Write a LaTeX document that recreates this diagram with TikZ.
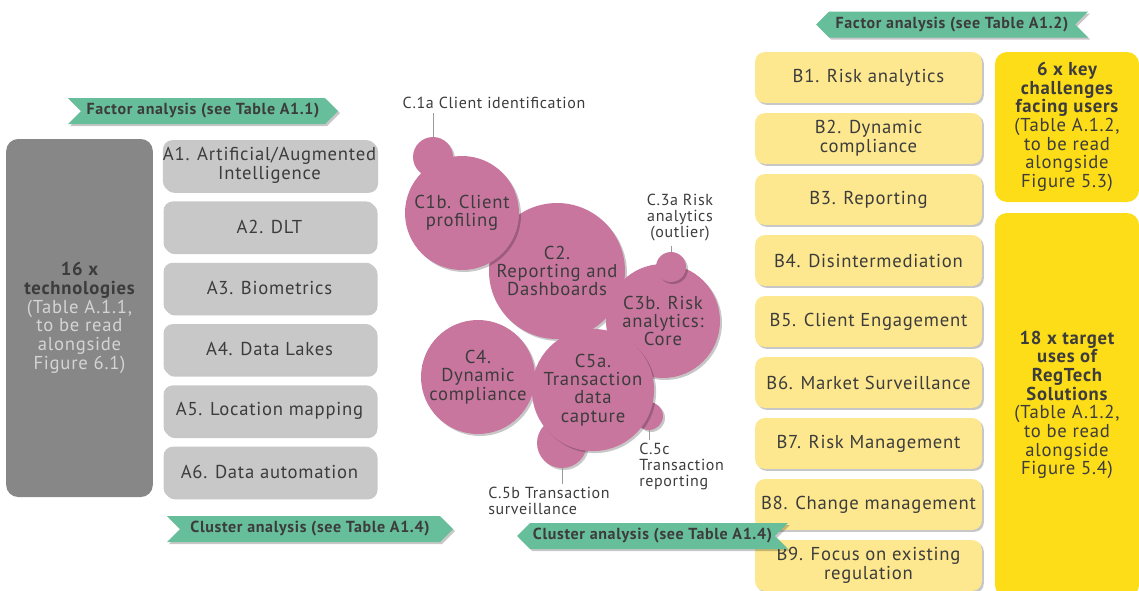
\documentclass[tikz,border=0pt]{standalone}
\usepackage{fontspec}
\setmainfont{PT Sans}[LetterSpace=4]
\usetikzlibrary{shapes.symbols,shadows}
\definecolor{ink}{HTML}{3C3C3C}
\definecolor{techdark}{HTML}{878787}
\definecolor{techlight}{HTML}{C8C8C8}
\definecolor{notegray}{HTML}{D4D4D4}
\definecolor{bannergreen}{HTML}{67BE9B}
\definecolor{bubblepink}{HTML}{C9769F}
\definecolor{uselight}{HTML}{FDE88F}
\definecolor{usebright}{HTML}{FDDC18}
\definecolor{leadergray}{HTML}{9A9A9A}
\begin{document}
\begin{tikzpicture}[x=0.75pt,y=-0.75pt]
    \tikzstyle{softshadow}=[drop shadow={shadow xshift=1.5pt,shadow yshift=-1.5pt,fill=black,opacity=.22}]
    \tikzstyle{boxtext}=[text=ink,align=center,inner sep=0pt,font=\fontsize{14}{14}\selectfont]
    \tikzstyle{techbox}=[boxtext,rectangle,rounded corners=7pt,fill=techlight,minimum width=159pt,minimum height=38pt,softshadow]
    \tikzstyle{usebox}=[boxtext,rectangle,rounded corners=7pt,fill=uselight,minimum width=170pt,minimum height=38pt,softshadow]
    \tikzstyle{bigbox}=[boxtext,rectangle,rounded corners=9pt]
    \tikzstyle{bannerR}=[signal,signal from=west,signal to=east,fill=bannergreen,text=ink,inner sep=0pt,minimum height=19.5pt,font=\bfseries\fontsize{12}{13}\selectfont,softshadow]
    \tikzstyle{bannerL}=[bannerR,signal from=east,signal to=west]
    \tikzstyle{bubble}=[boxtext,circle,fill=bubblepink,font=\fontsize{14}{13.75}\selectfont,softshadow]
    \tikzstyle{clabel}=[text=ink,inner sep=0pt,font=\fontsize{12}{12}\selectfont]
    \tikzstyle{leader}=[draw=leadergray,line width=0.7pt]
    \useasboundingbox (0,0) rectangle (1139,590);

    \node[bigbox,fill=techdark,minimum width=110pt,minimum height=268.5pt] (tech) at (79.5,318)
        {\bfseries 16 x\\ \bfseries technologies\\ \color{notegray}(Table A.1.1,\\ \color{notegray}to be read\\ \color{notegray}alongside\\ \color{notegray}Figure 6.1)};
    \node[techbox] (a1) at (269.5,165.5) {A1. Artificial/Augmented\\ Intelligence};
    \node[techbox] (a2) at (269.5,226.8) {A2. DLT};
    \node[techbox] (a3) at (269.5,288.1) {A3. Biometrics};
    \node[techbox] (a4) at (269.5,349.4) {A4. Data Lakes};
    \node[techbox] (a5) at (269.5,410.7) {A5. Location mapping};
    \node[techbox] (a6) at (269.5,472) {A6. Data automation};

    \node[usebox] (b1) at (868.5,77.5) {B1. Risk analytics};
    \node[usebox] (b2) at (868.5,138.5) {B2. Dynamic\\ compliance};
    \node[usebox] (b3) at (868.5,199.5) {B3. Reporting};
    \node[usebox] (b4) at (868.5,260.5) {B4. Disintermediation};
    \node[usebox] (b5) at (868.5,321.5) {B5. Client Engagement};
    \node[usebox] (b6) at (868.5,382.5) {B6. Market Surveillance};
    \node[usebox] (b7) at (868.5,443.5) {B7. Risk Management};
    \node[usebox] (b8) at (868.5,504.5) {B8. Change management};
    \node[usebox] (b9) at (868.5,565.5) {B9. Focus on existing\\ regulation};
    \node[bigbox,fill=usebright,minimum width=108pt,minimum height=112.5pt] (challenges) at (1067,127)
        {\bfseries 6 x key\\ \bfseries challenges\\ \bfseries facing users\\ (Table A.1.2,\\ to be read\\ alongside\\ Figure 5.3)};
    \node[bigbox,fill=usebright,minimum width=108pt,minimum height=288pt] (targets) at (1067,405)
        {\bfseries 18 x target\\ \bfseries uses of\\ \bfseries RegTech\\ \bfseries Solutions\\ (Table A.1.2,\\ to be read\\ alongside\\ Figure 5.4)};

    \node[bannerR,minimum width=202.5pt] (factorA) at (203,111) {Factor analysis (see Table A1.1)};
    \node[bannerL,minimum width=204pt] (factorB) at (952,24.5) {Factor analysis (see Table A1.2)};
    \node[bannerR,minimum width=214.5pt] (clusterA) at (310,529) {Cluster analysis (see Table A1.4)};
    \node[bannerL,minimum width=203pt] (clusterB) at (652.5,536) {Cluster analysis (see Table A1.4)};

    \node[bubble,minimum size=30pt] (c1a) at (433,157) {};
    \node[bubble,minimum size=102pt] (c2) at (557,271) {C2.\\ Reporting and\\ Dashboards};
    \node[bubble,minimum size=85.5pt] (c1b) at (462,213) {C1b. Client\\ profiling};
    \node[bubble,minimum size=85.5pt] (c3b) at (663,321) {C3b. Risk\\ analytics:\\ Core};
    \node[bubble,minimum size=22.5pt] (c3a) at (671,267) {};
    \node[bubble,minimum size=85.5pt] (c4) at (478,377) {C4.\\ Dynamic\\ compliance};
    \node[bubble,minimum size=37.5pt] (c5b) at (562,443) {};
    \node[bubble,minimum size=21pt] (c5c) at (649,416) {};
    \node[bubble,minimum size=82.5pt] (c5a) at (593,390) {C5a.\\ Transaction\\ data\\ capture};

    \node[clabel] (l1a) at (494,103) {C.1a Client identification};
    \node[clabel,align=center] (l3a) at (680,218) {C.3a Risk\\ analytics\\ (outlier)};
    \node[clabel,align=left,anchor=north west] (l5b) at (488,487) {C.5b Transaction\\ surveillance};
    \node[clabel,align=left,anchor=north west] (l5c) at (639,443) {C.5c\\ Transaction\\ reporting};
    \draw[leader] (l1a.south -| c1a) ++(0,-3pt) -- (c1a.north);
    \draw[leader] (c3a.north |- l3a.south) ++(0,-3pt) -- (c3a.north);
    \draw[leader] (c5b.south) -- ([yshift=2pt]c5b.south |- l5b.north);
    \draw[leader] (c5c.south) -- ([yshift=2pt]c5c.south |- l5c.north);
\end{tikzpicture}
\end{document}
